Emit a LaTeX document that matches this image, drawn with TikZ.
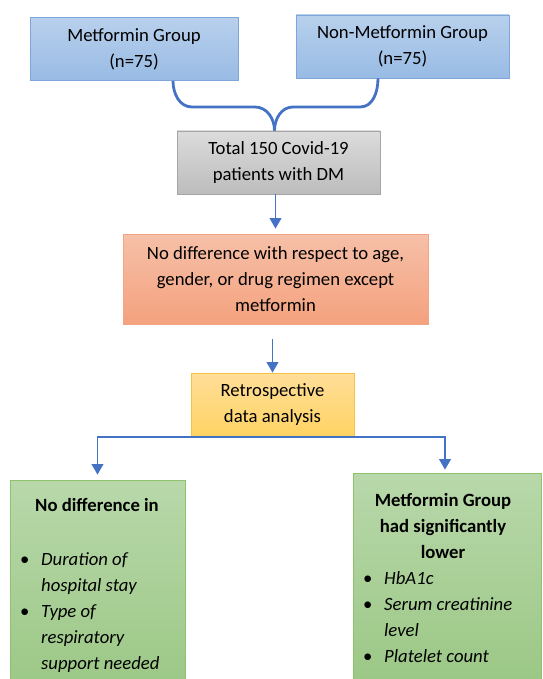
\documentclass[tikz,border=0pt]{standalone}
\usepackage{fontspec}
\setmainfont{Carlito}
\usetikzlibrary{arrows}

\definecolor{linkblue}{HTML}{4472C4}
\definecolor{bluetop}{HTML}{B8D0EC}
\definecolor{bluebot}{HTML}{98BBE4}
\definecolor{blueline}{HTML}{7EA6D9}
\definecolor{graytop}{HTML}{DCDCDC}
\definecolor{graybot}{HTML}{BCBCBC}
\definecolor{grayline}{HTML}{A5A5A5}
\definecolor{orangetop}{HTML}{F6C0A8}
\definecolor{orangebot}{HTML}{F4A17E}
\definecolor{orangeline}{HTML}{F3A583}
\definecolor{yellowtop}{HTML}{FFDE98}
\definecolor{yellowbot}{HTML}{FFD363}
\definecolor{yellowline}{HTML}{F5C244}
\definecolor{greentop}{HTML}{B8D8AA}
\definecolor{greenbot}{HTML}{99C682}
\definecolor{greenline}{HTML}{8DC26F}

\tikzset{
  box/.style={rectangle,draw,line width=0.8pt,align=center,inner sep=0pt,
    font=\fontsize{18.7}{26}\selectfont},
  bluebox/.style={box,draw=blueline,top color=bluetop,bottom color=bluebot},
  graybox/.style={box,draw=grayline,top color=graytop,bottom color=graybot},
  orangebox/.style={box,draw=orangeline,top color=orangetop,bottom color=orangebot},
  yellowbox/.style={box,draw=yellowline,top color=yellowtop,bottom color=yellowbot},
  greenbox/.style={box,draw=greenline,top color=greentop,bottom color=greenbot},
  txt/.style={inner sep=0pt,font=\fontsize{18.7}{26}\selectfont},
  link/.style={->,draw=linkblue,line width=1.9pt},
}

\begin{document}
\begin{tikzpicture}[x=1pt,y=-1pt,>=triangle 60]
    \useasboundingbox (0,0) rectangle (542,679);
    \clip (0,0) rectangle (542,679);
    \node[bluebox,minimum width=208pt,minimum height=63pt] (metf) at (134,49) {Metformin Group\\(n=75)};
    \node[bluebox,minimum width=213pt,minimum height=63pt] (nonmetf) at (402.5,46.5) {Non-Metformin Group\\(n=75)};
    \node[graybox,minimum width=203pt,minimum height=63pt] (total) at (278.5,162.5) {Total 150 Covid-19\\patients with DM};
    \node[orangebox,minimum width=305pt,minimum height=90pt] (nodiffbase) at (275.5,279) {No difference with respect to age,\\gender, or drug regimen except\\metformin};
    \node[yellowbox,minimum width=163pt,minimum height=64pt] (retro) at (272.5,405) {Retrospective\\data analysis};
    \node[greenbox,minimum width=175pt,minimum height=230pt] (nodiff) at (97.5,595) {};
    \node[greenbox,minimum width=188pt,minimum height=230pt] (lower) at (447,588) {};

    % texts of the two green boxes
    \node[txt,font=\fontsize{18.7}{26}\selectfont\bfseries] (nodiffhead) at (97,505) {No difference in};
    \node[txt,anchor=north west,align=left] (nodifflist) at (20,552) {%
      \makebox[21pt][l]{\textbullet}\textit{Duration of}\\
      \hspace*{21pt}\textit{hospital stay}\\
      \makebox[21pt][l]{\textbullet}\textit{Type of}\\
      \hspace*{21pt}\textit{respiratory}\\
      \hspace*{21pt}\textit{support needed}};
    \node[txt,align=center,font=\fontsize{18.7}{26}\selectfont\bfseries] (lowerhead) at (443,526) {Metformin Group\\had significantly\\lower};
    \node[txt,anchor=north west,align=left] (lowerlist) at (363,571) {%
      \makebox[21pt][l]{\textbullet}\textit{HbA1c}\\
      \makebox[21pt][l]{\textbullet}\textit{Serum creatinine}\\
      \hspace*{21pt}\textit{level}\\
      \makebox[21pt][l]{\textbullet}\textit{Platelet count}};

    % brace joining the two groups
    \draw[linkblue,line width=2.8pt]
      ([xshift=39pt]metf.south) to[out=-90,in=180] (192,107) -- (255,107)
      to[out=0,in=90] ([xshift=-4pt]total.north);
    \draw[linkblue,line width=2.8pt]
      ([xshift=-24.5pt]nonmetf.south) to[out=-90,in=0] (360,107) -- (293,107)
      to[out=180,in=90] ([xshift=-4pt]total.north);

    \draw[link,shorten >=5pt] ([xshift=-3pt]total.south) -- ([xshift=-3pt]total.south |- nodiffbase.north);
    \draw[link,shorten <=15pt] ([xshift=-3pt]nodiffbase.south) -- (retro.north);
    \draw[link,shorten >=5pt] (retro.south) -| (nodiff.north);
    \draw[link,shorten >=3pt] (retro.south) -| ([xshift=-2pt]lower.north);
\end{tikzpicture}
\end{document}
